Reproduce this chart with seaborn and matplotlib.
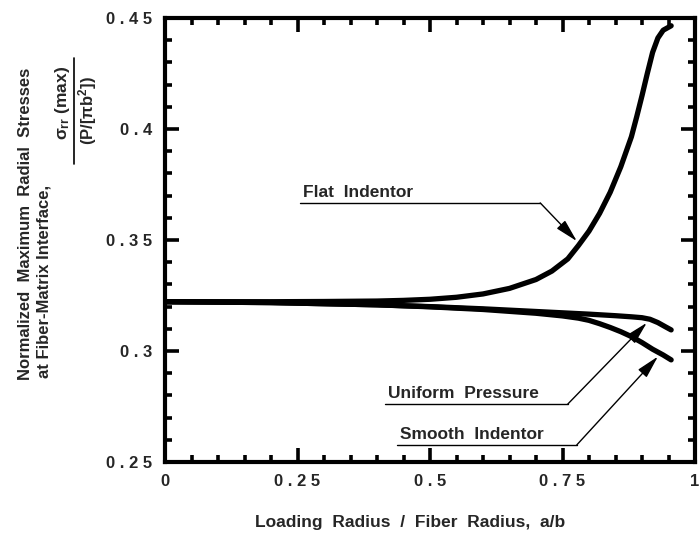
import numpy as np
import pandas as pd
import matplotlib
matplotlib.use("Agg")
import matplotlib.pyplot as plt
import seaborn as sns

# ---- data ----
flat_x = [0.0, 0.1, 0.2, 0.3, 0.4, 0.45, 0.5, 0.55, 0.6, 0.65, 0.7, 0.73, 0.76, 0.78, 0.8,
          0.82, 0.84, 0.86, 0.88, 0.89, 0.9, 0.91, 0.92, 0.93, 0.94, 0.955]
flat_y = [0.3222, 0.3222, 0.3222, 0.3223, 0.3225, 0.3228, 0.3233, 0.3242, 0.3257, 0.3282,
          0.3322, 0.3360, 0.3415, 0.3475, 0.3540, 0.3620, 0.3715, 0.3830, 0.3965, 0.4055,
          0.4150, 0.4250, 0.4345, 0.4410, 0.4445, 0.4465]
uni_x = [0.0, 0.2, 0.4, 0.5, 0.6, 0.7, 0.75, 0.8, 0.85, 0.88, 0.9, 0.915, 0.93, 0.945, 0.955]
uni_y = [0.3222, 0.3218, 0.3208, 0.3200, 0.3190, 0.3178, 0.3172, 0.3166, 0.3159, 0.3154,
         0.3150, 0.3143, 0.3128, 0.3108, 0.3095]
smooth_x = [0.0, 0.2, 0.4, 0.5, 0.6, 0.7, 0.75, 0.78, 0.8, 0.82, 0.84, 0.86, 0.88, 0.9,
            0.92, 0.94, 0.955]
smooth_y = [0.3222, 0.3218, 0.3208, 0.3199, 0.3187, 0.3170, 0.3158, 0.3148, 0.3138, 0.3123,
            0.3106, 0.3087, 0.3065, 0.3038, 0.3008, 0.2982, 0.2960]

series_names = ["Flat  Indentor", "Uniform  Pressure", "Smooth  Indentor"]
# annotation anchors: text start x, underline y, corner x, arrow tip (x, y)
ann_text_x = [0.255, 0.415, 0.438]
ann_line_y = [0.3667, 0.2761, 0.2577]
ann_corner_x = [0.708, 0.760, 0.777]
ann_tip = [(0.777, 0.3495), (0.909, 0.3127), (0.930, 0.2975)]

xticks = [0, 0.25, 0.5, 0.75, 1]
xtick_labels = ["0", "0.25", "0.5", "0.75", "1"]
yticks = [0.25, 0.3, 0.35, 0.4, 0.45]
ytick_labels = ["0.25", "0.3", "0.35", "0.4", "0.45"]

xlabel = "Loading  Radius  /  Fiber  Radius,  a/b"
ylabel1 = "Normalized  Maximum  Radial  Stresses"
ylabel2 = "at Fiber-Matrix Interface,"
ynum = r"$\sigma_{rr}$ (max)"
yden = r"(P/[$\pi$b$^2$])"

# ---- style ----
sns.set_theme(style="ticks")
plt.rcParams["font.family"] = ["Liberation Sans", "DejaVu Sans"]
plt.rcParams["font.weight"] = "bold"
plt.rcParams["mathtext.fontset"] = "custom"
plt.rcParams["mathtext.rm"] = "Liberation Sans:bold"
plt.rcParams["mathtext.it"] = "Liberation Sans:bold"
plt.rcParams["mathtext.bf"] = "Liberation Sans:bold"

W, H = 699, 535
fig = plt.figure(figsize=(W / 100, H / 100), dpi=100)
L, R, T, B = 165, 695, 18, 462
ax = fig.add_axes([L / W, 1 - B / H, (R - L) / W, (B - T) / H])

frames = []
for name, xs, ys in zip(series_names, [flat_x, uni_x, smooth_x], [flat_y, uni_y, smooth_y]):
    frames.append(pd.DataFrame({"x": xs, "y": ys, "series": name}))
df = pd.concat(frames, ignore_index=True)

sns.lineplot(data=df, x="x", y="y", units="series", estimator=None, color="black",
             linewidth=3.8, ax=ax, legend=False, sort=False)
for ln in ax.get_lines():
    ln.set_solid_joinstyle("round")
    ln.set_solid_capstyle("round")

ax.set_xlim(0, 1)
ax.set_ylim(0.25, 0.45)
ax.set_xticks(xticks)
ax.set_xticklabels([" ".join(s) for s in xtick_labels])
ax.set_yticks(yticks)
ax.set_yticklabels([" ".join(s) for s in ytick_labels])
ax.set_xticks(np.arange(0, 1.0001, 0.05), minor=True)
ax.set_yticks(np.arange(0.25, 0.45001, 0.01), minor=True)
ax.tick_params(which="both", direction="in", top=True, right=True, color="black", labelsize=12)
ax.tick_params(which="major", length=10, width=2.6)
ax.tick_params(which="minor", length=5, width=2.6)
ax.tick_params(axis="x", pad=9)
ax.tick_params(axis="y", pad=9)
for lab in ax.get_xticklabels() + ax.get_yticklabels():
    lab.set_fontweight("bold")
for sp in ax.spines.values():
    sp.set_linewidth(3.0)
    sp.set_color("black")
ax.set_xlabel("")
ax.set_ylabel("")

fig.text(410 / W, 1 - 522 / H, xlabel, ha="center", va="center", fontsize=12.5, fontweight="bold")

# y label block
fig.text(25 / W, 1 - 380 / H, ylabel1, rotation=90, rotation_mode="anchor",
         ha="left", va="center", fontsize=12, fontweight="bold")
fig.text(44 / W, 1 - 378 / H, ylabel2, rotation=90, rotation_mode="anchor",
         ha="left", va="center", fontsize=12, fontweight="bold")
fig.text(62 / W, 1 - 103 / H, ynum, rotation=90, rotation_mode="anchor",
         ha="center", va="center", fontsize=12.5, fontweight="bold")
fig.text(88 / W, 1 - 110 / H, yden, rotation=90, rotation_mode="anchor",
         ha="center", va="center", fontsize=12, fontweight="bold")
fig.add_artist(plt.Line2D([74 / W, 74 / W], [1 - 58 / H, 1 - 164 / H], transform=fig.transFigure,
                          color="black", lw=1.2))

# annotations
for name, tx, ly, cx, tip in zip(series_names, ann_text_x, ann_line_y, ann_corner_x, ann_tip):
    ax.plot([tx, cx], [ly, ly], color="black", lw=1.0)
    ax.text(tx + 0.005, ly + 0.0012, name, ha="left", va="bottom", fontsize=12.5, fontweight="bold")
    ax.annotate("", xy=tip, xytext=(cx, ly),
                arrowprops=dict(arrowstyle="-|>,head_length=1.0,head_width=0.25", color="black",
                                lw=1.0, shrinkA=0, shrinkB=0, mutation_scale=14))

fig.savefig("out.png", dpi=100)
